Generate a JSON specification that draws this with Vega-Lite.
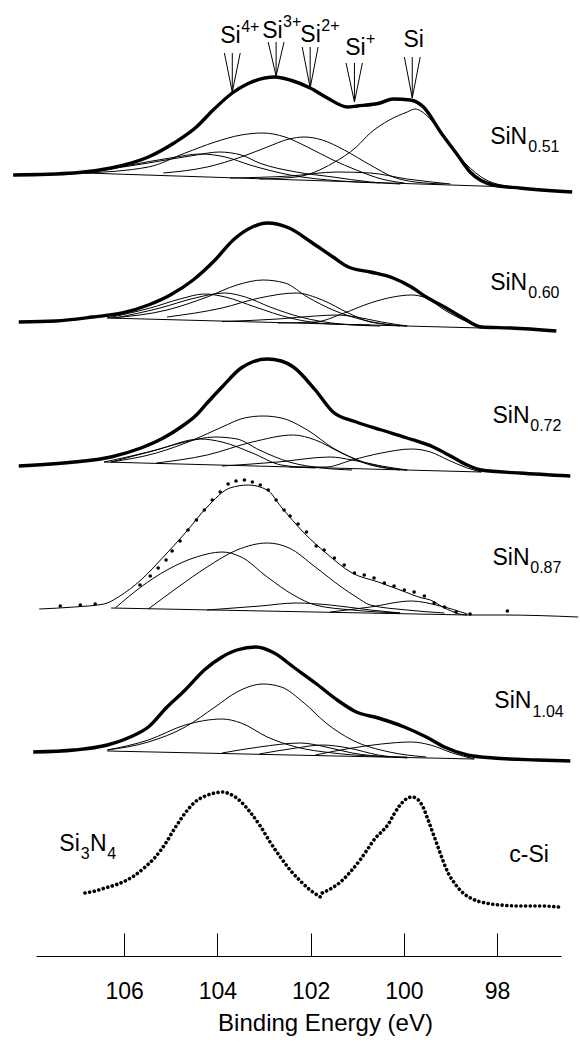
{
"$schema": "https://vega.github.io/schema/vega-lite/v6.json",
"width": 525, "height": 956,
"autosize": {"type": "none"},
"padding": {"left": 36, "right": 19, "top": 0, "bottom": 87},
"background": "white",
"config": {"view": {"stroke": null}, "font": "Liberation Sans"},
"datasets": {
"env": [
{"s":"0.51","eV":108.38,"I":781},{"s":"0.51","eV":107.07,"I":783},{"s":"0.51","eV":106.28,"I":788},{"s":"0.51","eV":105.48,"I":799},{"s":"0.51","eV":104.93,"I":813},{"s":"0.51","eV":104.45,"I":829},{"s":"0.51","eV":104.09,"I":846},{"s":"0.51","eV":103.68,"I":863},{"s":"0.51","eV":103.36,"I":872},{"s":"0.51","eV":102.76,"I":879},{"s":"0.51","eV":102.44,"I":876},{"s":"0.51","eV":102.01,"I":868},{"s":"0.51","eV":101.64,"I":858},{"s":"0.51","eV":101.21,"I":849},{"s":"0.51","eV":101.0,"I":850},{"s":"0.51","eV":100.51,"I":853},{"s":"0.51","eV":100.23,"I":857},{"s":"0.51","eV":99.86,"I":856},{"s":"0.51","eV":99.58,"I":849},{"s":"0.51","eV":99.2,"I":823},{"s":"0.51","eV":98.88,"I":803},{"s":"0.51","eV":98.58,"I":784},{"s":"0.51","eV":98.08,"I":771},{"s":"0.51","eV":97.52,"I":768},{"s":"0.51","eV":96.39,"I":764},
{"s":"0.60","eV":108.26,"I":634},{"s":"0.60","eV":107.47,"I":635},{"s":"0.60","eV":106.67,"I":639},{"s":"0.60","eV":106.04,"I":643},{"s":"0.60","eV":105.48,"I":651},{"s":"0.60","eV":105.01,"I":661},{"s":"0.60","eV":104.52,"I":676},{"s":"0.60","eV":104.05,"I":696},{"s":"0.60","eV":103.66,"I":716},{"s":"0.60","eV":103.25,"I":729},{"s":"0.60","eV":102.93,"I":733},{"s":"0.60","eV":102.46,"I":728},{"s":"0.60","eV":101.99,"I":714},{"s":"0.60","eV":101.52,"I":699},{"s":"0.60","eV":101.19,"I":689},{"s":"0.60","eV":100.72,"I":684},{"s":"0.60","eV":100.23,"I":678},{"s":"0.60","eV":99.84,"I":669},{"s":"0.60","eV":99.52,"I":659},{"s":"0.60","eV":99.13,"I":649},{"s":"0.60","eV":98.73,"I":638},{"s":"0.60","eV":98.34,"I":629},{"s":"0.60","eV":97.7,"I":628},{"s":"0.60","eV":96.73,"I":625},
{"s":"0.72","eV":108.26,"I":490},{"s":"0.72","eV":107.07,"I":494},{"s":"0.72","eV":106.28,"I":499},{"s":"0.72","eV":105.64,"I":508},{"s":"0.72","eV":105.16,"I":518},{"s":"0.72","eV":104.78,"I":529},{"s":"0.72","eV":104.45,"I":541},{"s":"0.72","eV":104.22,"I":553},{"s":"0.72","eV":103.9,"I":569},{"s":"0.72","eV":103.49,"I":588},{"s":"0.72","eV":103.25,"I":594},{"s":"0.72","eV":102.93,"I":597},{"s":"0.72","eV":102.63,"I":595},{"s":"0.72","eV":102.37,"I":589},{"s":"0.72","eV":101.9,"I":566},{"s":"0.72","eV":101.52,"I":544},{"s":"0.72","eV":101.02,"I":534},{"s":"0.72","eV":100.48,"I":526},{"s":"0.72","eV":99.93,"I":518},{"s":"0.72","eV":99.37,"I":509},{"s":"0.72","eV":98.96,"I":499},{"s":"0.72","eV":98.64,"I":491},{"s":"0.72","eV":98.34,"I":486},{"s":"0.72","eV":97.52,"I":483},{"s":"0.72","eV":96.43,"I":480},
{"s":"1.04","eV":107.95,"I":204},{"s":"1.04","eV":107.07,"I":206},{"s":"1.04","eV":106.36,"I":211},{"s":"1.04","eV":105.87,"I":219},{"s":"1.04","eV":105.48,"I":229},{"s":"1.04","eV":105.08,"I":249},{"s":"1.04","eV":104.69,"I":266},{"s":"1.04","eV":104.28,"I":286},{"s":"1.04","eV":103.9,"I":299},{"s":"1.04","eV":103.58,"I":306},{"s":"1.04","eV":103.17,"I":309},{"s":"1.04","eV":102.78,"I":303},{"s":"1.04","eV":102.37,"I":289},{"s":"1.04","eV":101.9,"I":273},{"s":"1.04","eV":101.43,"I":256},{"s":"1.04","eV":101.02,"I":244},{"s":"1.04","eV":100.55,"I":238},{"s":"1.04","eV":99.99,"I":229},{"s":"1.04","eV":99.52,"I":219},{"s":"1.04","eV":99.13,"I":209},{"s":"1.04","eV":98.64,"I":201},{"s":"1.04","eV":98.08,"I":198},{"s":"1.04","eV":97.14,"I":196},{"s":"1.04","eV":96.43,"I":195}
],
"comp": [
{"c":"0.51-bg","eV":106.84,"I":783},{"c":"0.51-bg","eV":97.7,"I":769},
{"c":"0.51-a","eV":106.84,"I":783},{"c":"0.51-a","eV":105.48,"I":793},{"c":"0.51-a","eV":104.45,"I":801},{"c":"0.51-a","eV":103.96,"I":804},{"c":"0.51-a","eV":103.49,"I":801},{"c":"0.51-a","eV":103.1,"I":793},{"c":"0.51-a","eV":102.31,"I":784},{"c":"0.51-a","eV":101.52,"I":779},{"c":"0.51-a","eV":100.72,"I":774},{"c":"0.51-a","eV":100.08,"I":772},
{"c":"0.51-b","eV":106.84,"I":783},{"c":"0.51-b","eV":105.87,"I":791},{"c":"0.51-b","eV":105.01,"I":798},{"c":"0.51-b","eV":104.37,"I":802},{"c":"0.51-b","eV":103.83,"I":799},{"c":"0.51-b","eV":103.3,"I":791},{"c":"0.51-b","eV":102.44,"I":781},{"c":"0.51-b","eV":101.36,"I":775},{"c":"0.51-b","eV":100.51,"I":773},
{"c":"0.51-c","eV":106.84,"I":783},{"c":"0.51-c","eV":105.48,"I":789},{"c":"0.51-c","eV":104.69,"I":803},{"c":"0.51-c","eV":104.05,"I":814},{"c":"0.51-c","eV":103.49,"I":821},{"c":"0.51-c","eV":103.02,"I":823},{"c":"0.51-c","eV":102.55,"I":819},{"c":"0.51-c","eV":102.07,"I":809},{"c":"0.51-c","eV":101.52,"I":796},{"c":"0.51-c","eV":101.02,"I":786},{"c":"0.51-c","eV":100.48,"I":777},{"c":"0.51-c","eV":99.99,"I":773},
{"c":"0.51-d","eV":105.16,"I":783},{"c":"0.51-d","eV":104.22,"I":789},{"c":"0.51-d","eV":103.49,"I":799},{"c":"0.51-d","eV":102.93,"I":809},{"c":"0.51-d","eV":102.46,"I":817},{"c":"0.51-d","eV":102.14,"I":819},{"c":"0.51-d","eV":101.75,"I":816},{"c":"0.51-d","eV":101.28,"I":806},{"c":"0.51-d","eV":100.72,"I":791},{"c":"0.51-d","eV":100.23,"I":779},{"c":"0.51-d","eV":99.76,"I":774},{"c":"0.51-d","eV":99.13,"I":772},
{"c":"0.51-e","eV":103.73,"I":778},{"c":"0.51-e","eV":102.44,"I":780},{"c":"0.51-e","eV":101.43,"I":784},{"c":"0.51-e","eV":100.72,"I":783},{"c":"0.51-e","eV":99.93,"I":777},{"c":"0.51-e","eV":99.0,"I":772},
{"c":"0.51-f","eV":103.1,"I":777},{"c":"0.51-f","eV":102.31,"I":779},{"c":"0.51-f","eV":101.52,"I":793},{"c":"0.51-f","eV":101.02,"I":809},{"c":"0.51-f","eV":100.72,"I":823},{"c":"0.51-f","eV":100.31,"I":836},{"c":"0.51-f","eV":99.93,"I":844},{"c":"0.51-f","eV":99.76,"I":847},{"c":"0.51-f","eV":99.52,"I":841},{"c":"0.51-f","eV":99.2,"I":823},{"c":"0.51-f","eV":98.81,"I":799},{"c":"0.51-f","eV":98.34,"I":779},{"c":"0.51-f","eV":97.7,"I":769},
{"c":"0.60-bg","eV":106.36,"I":638},{"c":"0.60-bg","eV":98.34,"I":628},
{"c":"0.60-a","eV":106.36,"I":638},{"c":"0.60-a","eV":105.44,"I":648},{"c":"0.60-a","eV":104.8,"I":657},{"c":"0.60-a","eV":104.28,"I":662},{"c":"0.60-a","eV":103.83,"I":659},{"c":"0.60-a","eV":103.19,"I":649},{"c":"0.60-a","eV":102.44,"I":638},{"c":"0.60-a","eV":101.58,"I":632},{"c":"0.60-a","eV":100.72,"I":631},
{"c":"0.60-b","eV":106.19,"I":638},{"c":"0.60-b","eV":105.23,"I":648},{"c":"0.60-b","eV":104.48,"I":658},{"c":"0.60-b","eV":103.85,"I":663},{"c":"0.60-b","eV":103.4,"I":659},{"c":"0.60-b","eV":102.87,"I":649},{"c":"0.60-b","eV":102.22,"I":639},{"c":"0.60-b","eV":101.36,"I":632},{"c":"0.60-b","eV":100.51,"I":630},
{"c":"0.60-c","eV":106.28,"I":638},{"c":"0.60-c","eV":105.08,"I":646},{"c":"0.60-c","eV":104.22,"I":659},{"c":"0.60-c","eV":103.58,"I":671},{"c":"0.60-c","eV":103.02,"I":676},{"c":"0.60-c","eV":102.55,"I":673},{"c":"0.60-c","eV":102.07,"I":659},{"c":"0.60-c","eV":101.52,"I":646},{"c":"0.60-c","eV":100.87,"I":636},{"c":"0.60-c","eV":100.08,"I":630},
{"c":"0.60-d","eV":105.08,"I":639},{"c":"0.60-d","eV":103.9,"I":648},{"c":"0.60-d","eV":103.1,"I":658},{"c":"0.60-d","eV":102.31,"I":663},{"c":"0.60-d","eV":101.75,"I":656},{"c":"0.60-d","eV":101.19,"I":643},{"c":"0.60-d","eV":100.72,"I":634},{"c":"0.60-d","eV":99.93,"I":630},
{"c":"0.60-e","eV":103.9,"I":634.5},{"c":"0.60-e","eV":102.7,"I":637},{"c":"0.60-e","eV":101.9,"I":640},{"c":"0.60-e","eV":101.43,"I":641},{"c":"0.60-e","eV":101.02,"I":639},{"c":"0.60-e","eV":100.48,"I":634},{"c":"0.60-e","eV":99.93,"I":630},
{"c":"0.60-f","eV":102.7,"I":633},{"c":"0.60-f","eV":101.9,"I":634},{"c":"0.60-f","eV":101.28,"I":643},{"c":"0.60-f","eV":100.72,"I":653},{"c":"0.60-f","eV":100.23,"I":659},{"c":"0.60-f","eV":99.84,"I":661},{"c":"0.60-f","eV":99.52,"I":658},{"c":"0.60-f","eV":99.13,"I":646},{"c":"0.60-f","eV":98.73,"I":636},{"c":"0.60-f","eV":98.34,"I":628},
{"c":"0.72-bg","eV":106.43,"I":494},{"c":"0.72-bg","eV":98.34,"I":484},
{"c":"0.72-a","eV":106.43,"I":494},{"c":"0.72-a","eV":105.48,"I":504},{"c":"0.72-a","eV":104.69,"I":514},{"c":"0.72-a","eV":104.05,"I":519},{"c":"0.72-a","eV":103.58,"I":517},{"c":"0.72-a","eV":103.1,"I":506},{"c":"0.72-a","eV":102.46,"I":494},{"c":"0.72-a","eV":101.75,"I":488},{"c":"0.72-a","eV":101.11,"I":486},
{"c":"0.72-b","eV":106.28,"I":494},{"c":"0.72-b","eV":105.31,"I":506},{"c":"0.72-b","eV":104.37,"I":517},{"c":"0.72-b","eV":103.9,"I":514},{"c":"0.72-b","eV":103.25,"I":503},{"c":"0.72-b","eV":102.63,"I":491},{"c":"0.72-b","eV":101.9,"I":488},
{"c":"0.72-c","eV":106.28,"I":494},{"c":"0.72-c","eV":105.31,"I":503},{"c":"0.72-c","eV":104.52,"I":516},{"c":"0.72-c","eV":103.9,"I":529},{"c":"0.72-c","eV":103.42,"I":538},{"c":"0.72-c","eV":103.02,"I":540},{"c":"0.72-c","eV":102.63,"I":538},{"c":"0.72-c","eV":102.07,"I":526},{"c":"0.72-c","eV":101.52,"I":508},{"c":"0.72-c","eV":100.87,"I":494},{"c":"0.72-c","eV":100.08,"I":486},
{"c":"0.72-d","eV":105.31,"I":493},{"c":"0.72-d","eV":104.22,"I":501},{"c":"0.72-d","eV":103.25,"I":514},{"c":"0.72-d","eV":102.37,"I":521},{"c":"0.72-d","eV":101.9,"I":516},{"c":"0.72-d","eV":101.34,"I":503},{"c":"0.72-d","eV":100.72,"I":491},{"c":"0.72-d","eV":99.93,"I":486},
{"c":"0.72-e","eV":103.9,"I":490},{"c":"0.72-e","eV":102.7,"I":494},{"c":"0.72-e","eV":101.58,"I":499},{"c":"0.72-e","eV":101.11,"I":496},{"c":"0.72-e","eV":100.48,"I":490},{"c":"0.72-e","eV":99.93,"I":486},
{"c":"0.72-f","eV":102.46,"I":489},{"c":"0.72-f","eV":101.67,"I":489},{"c":"0.72-f","eV":101.11,"I":496},{"c":"0.72-f","eV":100.48,"I":503},{"c":"0.72-f","eV":99.84,"I":507},{"c":"0.72-f","eV":99.43,"I":504},{"c":"0.72-f","eV":99.05,"I":496},{"c":"0.72-f","eV":98.64,"I":488},{"c":"0.72-f","eV":98.34,"I":484},
{"c":"0.87-fit","eV":107.82,"I":347},{"c":"0.87-fit","eV":107.07,"I":349},{"c":"0.87-fit","eV":106.43,"I":352},{"c":"0.87-fit","eV":106.09,"I":360},{"c":"0.87-fit","eV":105.64,"I":376},{"c":"0.87-fit","eV":105.16,"I":399},{"c":"0.87-fit","eV":104.69,"I":423},{"c":"0.87-fit","eV":104.22,"I":449},{"c":"0.87-fit","eV":103.73,"I":468},{"c":"0.87-fit","eV":103.34,"I":471},{"c":"0.87-fit","eV":102.93,"I":466},{"c":"0.87-fit","eV":102.63,"I":449},{"c":"0.87-fit","eV":102.14,"I":423},{"c":"0.87-fit","eV":101.67,"I":403},{"c":"0.87-fit","eV":101.11,"I":383},{"c":"0.87-fit","eV":100.55,"I":374},{"c":"0.87-fit","eV":100.08,"I":366},{"c":"0.87-fit","eV":99.61,"I":358},{"c":"0.87-fit","eV":99.43,"I":356},{"c":"0.87-fit","eV":99.13,"I":348},{"c":"0.87-fit","eV":98.64,"I":341},{"c":"0.87-fit","eV":97.85,"I":341},{"c":"0.87-fit","eV":96.26,"I":339},
{"c":"0.87-bg","eV":106.28,"I":348},{"c":"0.87-bg","eV":98.64,"I":341},
{"c":"0.87-a","eV":106.19,"I":348},{"c":"0.87-a","eV":105.64,"I":369},{"c":"0.87-a","eV":105.08,"I":386},{"c":"0.87-a","eV":104.45,"I":399},{"c":"0.87-a","eV":103.9,"I":404},{"c":"0.87-a","eV":103.49,"I":399},{"c":"0.87-a","eV":102.93,"I":379},{"c":"0.87-a","eV":102.37,"I":361},{"c":"0.87-a","eV":101.9,"I":351},{"c":"0.87-a","eV":101.11,"I":346},{"c":"0.87-a","eV":100.08,"I":343},
{"c":"0.87-b","eV":105.48,"I":347},{"c":"0.87-b","eV":104.84,"I":369},{"c":"0.87-b","eV":104.22,"I":389},{"c":"0.87-b","eV":103.58,"I":406},{"c":"0.87-b","eV":102.93,"I":413},{"c":"0.87-b","eV":102.46,"I":408},{"c":"0.87-b","eV":101.9,"I":389},{"c":"0.87-b","eV":101.34,"I":369},{"c":"0.87-b","eV":101.02,"I":359},{"c":"0.87-b","eV":100.72,"I":351},{"c":"0.87-b","eV":99.93,"I":346},{"c":"0.87-b","eV":99.13,"I":343},
{"c":"0.87-c","eV":104.22,"I":346},{"c":"0.87-c","eV":103.08,"I":350},{"c":"0.87-c","eV":102.31,"I":353},{"c":"0.87-c","eV":101.58,"I":351},{"c":"0.87-c","eV":100.72,"I":346},{"c":"0.87-c","eV":100.08,"I":343},
{"c":"0.87-d","eV":101.58,"I":344},{"c":"0.87-d","eV":100.72,"I":349},{"c":"0.87-d","eV":99.84,"I":355},{"c":"0.87-d","eV":99.22,"I":350},{"c":"0.87-d","eV":98.64,"I":342},
{"c":"1.04-bg","eV":106.36,"I":205},{"c":"1.04-bg","eV":98.49,"I":197},
{"c":"1.04-a","eV":106.36,"I":206},{"c":"1.04-a","eV":105.48,"I":216},{"c":"1.04-a","eV":104.69,"I":231},{"c":"1.04-a","eV":103.9,"I":237},{"c":"1.04-a","eV":103.49,"I":233},{"c":"1.04-a","eV":102.93,"I":219},{"c":"1.04-a","eV":102.31,"I":209},{"c":"1.04-a","eV":101.52,"I":203},{"c":"1.04-a","eV":100.72,"I":200},{"c":"1.04-a","eV":99.93,"I":199},
{"c":"1.04-b","eV":106.36,"I":206},{"c":"1.04-b","eV":105.48,"I":214},{"c":"1.04-b","eV":104.69,"I":229},{"c":"1.04-b","eV":104.05,"I":249},{"c":"1.04-b","eV":103.58,"I":264},{"c":"1.04-b","eV":103.02,"I":272},{"c":"1.04-b","eV":102.63,"I":269},{"c":"1.04-b","eV":102.14,"I":253},{"c":"1.04-b","eV":101.67,"I":233},{"c":"1.04-b","eV":101.11,"I":216},{"c":"1.04-b","eV":100.31,"I":204},{"c":"1.04-b","eV":99.52,"I":199},
{"c":"1.04-c","eV":103.9,"I":203},{"c":"1.04-c","eV":103.1,"I":209},{"c":"1.04-c","eV":102.22,"I":213},{"c":"1.04-c","eV":101.67,"I":209},{"c":"1.04-c","eV":101.11,"I":203},{"c":"1.04-c","eV":100.31,"I":199},
{"c":"1.04-d","eV":103.1,"I":202},{"c":"1.04-d","eV":102.31,"I":208},{"c":"1.04-d","eV":101.75,"I":211},{"c":"1.04-d","eV":101.19,"I":208},{"c":"1.04-d","eV":100.55,"I":201},{"c":"1.04-d","eV":99.93,"I":198},
{"c":"1.04-e","eV":101.9,"I":201},{"c":"1.04-e","eV":101.11,"I":208},{"c":"1.04-e","eV":100.48,"I":212},{"c":"1.04-e","eV":99.84,"I":214},{"c":"1.04-e","eV":99.43,"I":211},{"c":"1.04-e","eV":98.96,"I":203},{"c":"1.04-e","eV":98.49,"I":197}
],
"dots": [
{"eV":107.37,"I":350},{"eV":106.94,"I":351},{"eV":106.62,"I":352},{"eV":105.66,"I":371},{"eV":105.44,"I":380},{"eV":105.27,"I":388},{"eV":105.1,"I":396},{"eV":104.97,"I":405},{"eV":104.8,"I":415},{"eV":104.63,"I":426},{"eV":104.45,"I":436},{"eV":104.28,"I":446},{"eV":104.11,"I":456},{"eV":103.94,"I":464},{"eV":103.77,"I":472},{"eV":103.6,"I":475},{"eV":103.42,"I":476},{"eV":103.25,"I":474},{"eV":103.08,"I":471},{"eV":102.91,"I":466},{"eV":102.74,"I":456},{"eV":102.57,"I":446},{"eV":102.44,"I":440},{"eV":102.27,"I":432},{"eV":102.09,"I":424},{"eV":101.88,"I":410},{"eV":101.71,"I":406},{"eV":101.49,"I":398},{"eV":101.28,"I":391},{"eV":101.06,"I":383},{"eV":100.85,"I":381},{"eV":100.64,"I":378},{"eV":100.42,"I":373},{"eV":100.21,"I":370},{"eV":99.99,"I":366},{"eV":99.78,"I":364},{"eV":99.56,"I":360},{"eV":99.35,"I":353},{"eV":99.13,"I":349},{"eV":98.88,"I":344},{"eV":98.58,"I":342},{"eV":97.78,"I":345}
],
"ref": [
{"s":"Si3N4","eV":106.84,"I":63},{"s":"Si3N4","eV":106.62,"I":65},{"s":"Si3N4","eV":106.41,"I":68},{"s":"Si3N4","eV":106.19,"I":71},{"s":"Si3N4","eV":105.98,"I":75},{"s":"Si3N4","eV":105.76,"I":81},{"s":"Si3N4","eV":105.55,"I":89},{"s":"Si3N4","eV":105.33,"I":99},{"s":"Si3N4","eV":105.12,"I":112},{"s":"Si3N4","eV":104.91,"I":128},{"s":"Si3N4","eV":104.69,"I":143},{"s":"Si3N4","eV":104.48,"I":154},{"s":"Si3N4","eV":104.26,"I":160},{"s":"Si3N4","eV":104.05,"I":163},{"s":"Si3N4","eV":103.9,"I":164},{"s":"Si3N4","eV":103.73,"I":162},{"s":"Si3N4","eV":103.51,"I":155},{"s":"Si3N4","eV":103.3,"I":144},{"s":"Si3N4","eV":103.08,"I":130},{"s":"Si3N4","eV":102.87,"I":114},{"s":"Si3N4","eV":102.65,"I":99},{"s":"Si3N4","eV":102.44,"I":86},{"s":"Si3N4","eV":102.22,"I":75},{"s":"Si3N4","eV":102.01,"I":66},{"s":"Si3N4","eV":101.79,"I":59},
{"s":"c-Si","eV":101.75,"I":63},{"s":"c-Si","eV":101.58,"I":67},{"s":"c-Si","eV":101.36,"I":74},{"s":"c-Si","eV":101.15,"I":84},{"s":"c-Si","eV":100.94,"I":96},{"s":"c-Si","eV":100.76,"I":108},{"s":"c-Si","eV":100.61,"I":118},{"s":"c-Si","eV":100.46,"I":125},{"s":"c-Si","eV":100.33,"I":132},{"s":"c-Si","eV":100.21,"I":142},{"s":"c-Si","eV":100.08,"I":151},{"s":"c-Si","eV":99.95,"I":157},{"s":"c-Si","eV":99.82,"I":159},{"s":"c-Si","eV":99.69,"I":156},{"s":"c-Si","eV":99.58,"I":148},{"s":"c-Si","eV":99.48,"I":136},{"s":"c-Si","eV":99.37,"I":122},{"s":"c-Si","eV":99.26,"I":108},{"s":"c-Si","eV":99.15,"I":94},{"s":"c-Si","eV":99.05,"I":83},{"s":"c-Si","eV":98.9,"I":72},{"s":"c-Si","eV":98.73,"I":63},{"s":"c-Si","eV":98.53,"I":57},{"s":"c-Si","eV":98.25,"I":53},{"s":"c-Si","eV":97.93,"I":51},{"s":"c-Si","eV":97.5,"I":50},{"s":"c-Si","eV":97.07,"I":50},{"s":"c-Si","eV":96.67,"I":49}
],
"arrows": [
{"eV":103.68,"I":903,"eV2":103.68,"I2":864},{"eV":103.85,"I":903,"eV2":103.68,"I2":864},{"eV":103.51,"I":903,"eV2":103.68,"I2":864},
{"eV":102.74,"I":914,"eV2":102.74,"I2":880},{"eV":102.91,"I":914,"eV2":102.74,"I2":880},{"eV":102.57,"I":914,"eV2":102.74,"I2":880},
{"eV":102.01,"I":909,"eV2":102.01,"I2":868},{"eV":102.18,"I":909,"eV2":102.01,"I2":868},{"eV":101.84,"I":909,"eV2":102.01,"I2":868},
{"eV":101.06,"I":893,"eV2":101.06,"I2":854},{"eV":101.24,"I":893,"eV2":101.06,"I2":854},{"eV":100.89,"I":893,"eV2":101.06,"I2":854},
{"eV":99.82,"I":899,"eV2":99.82,"I2":858},{"eV":99.99,"I":899,"eV2":99.82,"I2":858},{"eV":99.65,"I":899,"eV2":99.82,"I2":858}
],
"main": [
{"t":"Si","eV":103.94,"I":913},{"t":"Si","eV":103.04,"I":918},{"t":"Si","eV":102.22,"I":914},{"t":"Si","eV":101.26,"I":901},{"t":"Si","eV":100.01,"I":909},
{"t":"SiN","eV":98.15,"I":812},{"t":"SiN","eV":98.15,"I":666},{"t":"SiN","eV":98.1,"I":533},{"t":"SiN","eV":98.1,"I":391},{"t":"SiN","eV":98.06,"I":248},
{"t":"Si","eV":107.39,"I":105},{"t":"N","eV":106.73,"I":105},{"t":"c-Si","eV":97.74,"I":94}
],
"script": [
{"t":"4+","eV":103.49,"I":924},{"t":"3+","eV":102.59,"I":929},{"t":"2+","eV":101.77,"I":925},{"t":"+","eV":100.81,"I":912},
{"t":"0.51","eV":97.33,"I":804},{"t":"0.60","eV":97.33,"I":658},{"t":"0.72","eV":97.29,"I":525},{"t":"0.87","eV":97.29,"I":383},{"t":"1.04","eV":97.24,"I":239},
{"t":"3","eV":106.93,"I":97},{"t":"4","eV":106.36,"I":97}
]
},
"layer": [
{"data": {"name": "comp"}, "mark": {"type": "line", "color": "black", "strokeWidth": 1, "interpolate": "monotone"},
 "encoding": {
  "x": {"field": "eV", "type": "quantitative", "scale": {"domain": [96.63, 107.89], "reverse": true, "nice": false, "zero": false},
   "axis": {"values": [106, 104, 102, 100, 98], "format": "d", "title": "Binding Energy (eV)", "grid": false, "domainColor": "black", "domainWidth": 1, "tickColor": "black", "tickWidth": 1, "tickSize": -23, "labelFontSize": 23, "labelColor": "black", "labelFont": "Liberation Sans", "labelPadding": 47, "labelFlush": false, "labelOverlap": false, "titleFontSize": 24, "titleFontWeight": "normal", "titleColor": "black", "titleFont": "Liberation Sans", "titlePadding": 8, "titleX": 289}},
  "y": {"field": "I", "type": "quantitative", "scale": {"domain": [0, 956], "nice": false, "zero": false}, "axis": null},
  "detail": {"field": "c"}}},
{"data": {"name": "env"}, "mark": {"type": "line", "color": "black", "strokeWidth": 3.4, "interpolate": "monotone", "strokeJoin": "round"},
 "encoding": {"x": {"field": "eV", "type": "quantitative"}, "y": {"field": "I", "type": "quantitative"}, "detail": {"field": "s"}}},
{"data": {"name": "ref"}, "mark": {"type": "line", "color": "black", "strokeWidth": 3.6, "interpolate": "monotone", "strokeDash": [0.1, 4.6], "strokeCap": "round"},
 "encoding": {"x": {"field": "eV", "type": "quantitative"}, "y": {"field": "I", "type": "quantitative"}, "detail": {"field": "s"}}},
{"data": {"name": "dots"}, "mark": {"type": "point", "filled": true, "color": "black", "size": 13, "opacity": 1},
 "encoding": {"x": {"field": "eV", "type": "quantitative"}, "y": {"field": "I", "type": "quantitative"}}},
{"data": {"name": "arrows"}, "mark": {"type": "rule", "color": "black", "strokeWidth": 1},
 "encoding": {"x": {"field": "eV", "type": "quantitative"}, "y": {"field": "I", "type": "quantitative"}, "x2": {"field": "eV2"}, "y2": {"field": "I2"}}},
{"data": {"name": "main"}, "mark": {"type": "text", "align": "left", "baseline": "alphabetic", "fontSize": 23, "font": "Liberation Sans", "color": "black"},
 "encoding": {"x": {"field": "eV", "type": "quantitative"}, "y": {"field": "I", "type": "quantitative"}, "text": {"field": "t"}}},
{"data": {"name": "script"}, "mark": {"type": "text", "align": "left", "baseline": "alphabetic", "fontSize": 16, "font": "Liberation Sans", "color": "black"},
 "encoding": {"x": {"field": "eV", "type": "quantitative"}, "y": {"field": "I", "type": "quantitative"}, "text": {"field": "t"}}}
]
}
